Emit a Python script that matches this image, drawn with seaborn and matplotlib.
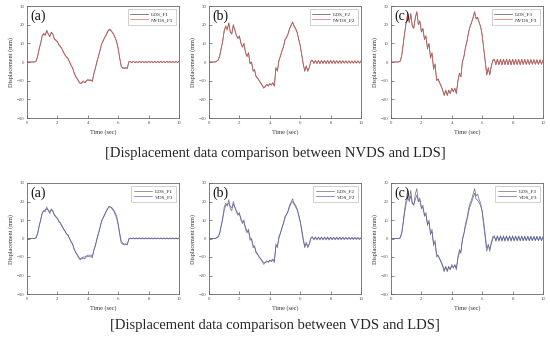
import matplotlib
matplotlib.use("Agg")
import matplotlib.pyplot as plt
import seaborn as sns
import numpy as np
import pandas as pd

sns.set_theme(style="ticks")
plt.rcParams['font.family'] = ['Liberation Serif', 'DejaVu Serif']

# sampling grid (sec)
TIME = np.round(np.arange(0, 10.05, 0.1), 1)

# displacement (mm) at 0.1 s steps
LDS_F1 = [0, 0, 0, 0, 0, 0, 0.5, 3, 7, 10, 14, 15, 14.5, 17, 15, 13.5, 16, 15, 12.5, 11.5,
          11, 9, 8.5, 7, 5, 4, 2.5, 2, 0, -2, -3, -6, -7.5, -9, -10.5, -11.5, -11, -10.5, -11, -10,
          -9.5, -10, -9.5, -10.5, -6, -3.5, 0, 3, 6, 9.5, 11, 13, 14.5, 16, 17.5, 17, 16, 15, 13, 11,
          7, 2, -2.5, -3, -3.5, -3, -3.5, 0, 0.3, -0.3, 0.3, -0.3, 0.3, -0.3, 0.3, -0.3, 0.3, -0.3, 0.3,
          -0.3, 0.3, -0.3, 0.3, -0.3, 0.3, -0.3, 0.3, -0.3, 0.3, -0.3, 0.3, -0.3, 0.3, -0.3, 0.3, -0.3,
          0.3, -0.3, 0.3, -0.3, 0.3]
NVDS_F1 = [0, 0, 0, 0, 0, 0, 0.3, 3.2, 7, 10.5, 14, 15.5, 14, 16.5, 15, 14, 15.5, 15, 12, 12,
           10.5, 9.5, 8, 7, 5.5, 3.5, 3, 1.5, 0, -1.5, -3.5, -5.5, -8, -9, -10, -11.5, -11.5, -10, -11, -10.5,
           -9.5, -9.5, -10, -10, -6.5, -3, 0.5, 3, 6.5, 9, 11.5, 13, 14, 16.5, 17, 17.5, 16, 14.5, 13, 10.5,
           7.5, 2, -2, -3.5, -3, -3.5, -3, 0.3, 0, -0.2, 0.4, -0.3, 0.2, -0.4, 0.3, -0.2, 0.4, -0.3, 0.2,
           -0.3, 0.4, -0.2, 0.3, -0.4, 0.2, -0.3, 0.3, -0.2, 0.4, -0.3, 0.2, -0.3, 0.3, -0.2, 0.3, -0.3,
           0.2, -0.3, 0.3, -0.2, 0.3]
VDS_F1 = [0, 0, 0, 0, 0, 0, 0.3, 2.5, 6.5, 10, 13.5, 15, 15.5, 16, 15.5, 14.5, 15.5, 14.5, 13, 12,
          10.5, 9.5, 8, 6.5, 5.5, 4, 2.5, 1.5, 0, -1.5, -3, -5.5, -7.5, -8.5, -10, -11, -10.5, -10, -10, -9.5,
          -9, -9, -9, -9.5, -6.5, -4, -0.5, 2.5, 5.5, 9, 11, 12.5, 14.5, 16, 17, 17, 16.5, 15.5, 14, 12,
          8, 3, -1.5, -2.5, -3, -3, -3, -0.5, 0.2, 0, 0.2, 0, 0.2, 0, 0.2, 0, 0.2, 0, 0.2,
          0, 0.2, 0, 0.2, 0, 0.2, 0, 0.2, 0, 0.2, 0, 0.2, 0, 0.2, 0, 0.2, 0,
          0.2, 0, 0.2, 0, 0.2]

LDS_F2 = [0, 0, 0, 0, 0, 0.5, 1, 3, 7, 11, 17, 19, 17.5, 21, 16, 15, 20, 17, 14.5, 12.5,
          14, 10, 8, 10, 5, 3, 5, -1, 0, -5, -4, -8, -8.5, -10, -11, -12.5, -14, -13, -12, -13,
          -11.5, -12.5, -11, -13, -3, -5, 1, 3, 6, 8, 12, 13, 15, 18, 19.5, 21.5, 19, 18, 16, 12,
          9, 4, -1, -5, -2, -5, -3, 0.5, 1, -0.8, 0.8, -0.8, 0.8, -0.8, 0.8, -0.8, 0.8, -0.8, 0.8,
          -0.8, 0.8, -0.7, 0.7, -0.7, 0.7, -0.7, 0.7, -0.7, 0.7, -0.6, 0.6, -0.6, 0.6, -0.6, 0.6, -0.6,
          0.6, -0.6, 0.6, -0.6, 0.5]
NVDS_F2 = [0, 0, 0, 0, 0, 0.3, 1, 3.5, 7.5, 11, 16.5, 19.5, 17, 20.5, 16.5, 15, 19.5, 17.5, 14, 13,
           13.5, 10.5, 8, 9.5, 5.5, 3, 4.5, -0.5, -0.5, -4.5, -4.5, -7.5, -9, -10, -11.5, -12.5, -13.5, -13.5, -12, -12.5,
           -12, -12, -11.5, -12.5, -3.5, -4.5, 0.5, 3.5, 6, 8.5, 11.5, 13.5, 15, 17.5, 20, 21, 19.5, 17.5, 15.5, 12.5,
           8.5, 4, -1.5, -4.5, -2.5, -4.5, -3, 0.3, 0.8, -0.7, 0.9, -0.8, 0.7, -0.9, 0.8, -0.7, 0.9, -0.8, 0.7,
           -0.8, 0.9, -0.7, 0.8, -0.8, 0.7, -0.8, 0.8, -0.7, 0.7, -0.6, 0.7, -0.6, 0.6, -0.7, 0.6, -0.6,
           0.7, -0.6, 0.6, -0.5, 0.5]
VDS_F2 = [0, 0, 0, 0, 0, 0.3, 0.8, 2.5, 6.5, 10.5, 15, 18, 18.5, 19, 17.5, 16.5, 18.5, 17, 15, 13.5,
          13, 11, 9, 9, 6, 4, 4, 0.5, -0.5, -3.5, -4.5, -7, -8.5, -10, -11, -12, -13, -13, -12.5, -12.5,
          -12, -12, -12, -12, -4.5, -4, 0, 3, 5.5, 8.5, 11, 13, 14.5, 17, 19, 20, 18.5, 17, 15.5, 13,
          9.5, 5, 0, -4, -3, -4, -3, 0, 0.5, -0.3, 0.5, -0.3, 0.5, -0.3, 0.5, -0.3, 0.5, -0.3, 0.5,
          -0.3, 0.5, -0.3, 0.5, -0.3, 0.5, -0.3, 0.5, -0.3, 0.5, -0.3, 0.5, -0.3, 0.5, -0.3, 0.5, -0.3,
          0.5, -0.3, 0.5, -0.3, 0.3]

LDS_F3 = [0, 0, 0, 0, 0, 0, 0.5, 3, 9, 16, 21, 26, 21, 26, 19, 18, 24, 27, 20, 22,
          16, 18, 12, 14, 7, 10, 2, 5, -4, -1, -10, -9, -11, -13, -15, -18, -15, -18, -15, -17,
          -14, -16, -14, -17, -10, -6, -8, 0, 3, 8, 11, 16, 19, 21, 24, 27, 23, 24, 21, 19,
          14, 7, 0, -7, -3, -7, -2, 1, 1.5, -1.5, 1.5, -1.5, 1.5, -1.5, 1.5, -1.5, 1.5, -1.5, 1.5,
          -1.5, 1.5, -1.4, 1.4, -1.4, 1.4, -1.4, 1.4, -1.3, 1.3, -1.3, 1.3, -1.3, 1.3, -1.2, 1.2, -1.2,
          1.2, -1.2, 1.2, -1.2, 1]
NVDS_F3 = [0, 0, 0, 0, 0, 0, 0.3, 3.5, 9.5, 15.5, 21.5, 25.5, 21.5, 25.5, 19.5, 18.5, 23.5, 26.5, 20.5, 21.5,
           16.5, 17.5, 12.5, 13.5, 7.5, 9.5, 2.5, 4.5, -3.5, -1.5, -9.5, -9.5, -11.5, -12.5, -15.5, -17.5, -15.5, -17.5, -15.5, -16.5,
           -14.5, -15.5, -14.5, -16.5, -10.5, -6.5, -7.5, 0.5, 3, 7.5, 11.5, 15.5, 19, 21.5, 23.5, 26.5, 23.5, 23.5, 21.5, 18.5,
           14.5, 7.5, 0.5, -6.5, -3.5, -6.5, -2.5, 0.5, 1.3, -1.3, 1.6, -1.4, 1.3, -1.6, 1.4, -1.3, 1.6, -1.4, 1.3,
           -1.6, 1.4, -1.3, 1.5, -1.3, 1.4, -1.5, 1.3, -1.2, 1.4, -1.3, 1.2, -1.4, 1.3, -1.1, 1.3, -1.2,
           1.1, -1.3, 1.2, -1.1, 1]
VDS_F3 = [0, 0, 0, 0, 0, 0, 0.3, 2.5, 8, 14, 19, 22, 20, 23, 19, 18.5, 21, 23.5, 20, 20.5,
          17, 16.5, 13, 12.5, 8, 8.5, 3, 3.5, -2.5, -2.5, -8.5, -9.5, -11, -12.5, -14.5, -17, -15.5, -17, -15.5, -16.5,
          -15, -15.5, -14.5, -16, -11, -7.5, -6.5, -1, 2.5, 6.5, 10, 14, 17.5, 19.5, 22, 24.5, 21.5, 20.5, 19.5, 17.5,
          15, 9, 2, -5, -4, -5.5, -3, 0, 1, -1, 1, -1, 1, -1, 1, -1, 1, -1, 1,
          -1, 1, -1, 1, -1, 1, -1, 1, -1, 1, -1, 1, -1, 1, -1, 1, -1,
          1, -1, 1, -1, 0.8]

PANEL_TAGS = ["(a)", "(b)", "(c)"]
CASES = ["F1", "F2", "F3"]
LDS = [LDS_F1, LDS_F2, LDS_F3]
NVDS = [NVDS_F1, NVDS_F2, NVDS_F3]
VDS = [VDS_F1, VDS_F2, VDS_F3]
CAPTIONS = ["[Displacement data comparison between NVDS and LDS]",
            "[Displacement data comparison between VDS and LDS]"]

fig = plt.figure(figsize=(5.5, 3.41), dpi=100)
fig.patch.set_facecolor("white")

lefts = [27 / 550, 209 / 550, 391 / 550]
width = 152 / 550
rows = [
    dict(bottom=1 - 118 / 341, height=112 / 341, other=NVDS, name="NVDS",
         lds_color="#5a5a5a", other_color="#e05a5a"),
    dict(bottom=1 - 294 / 341, height=111 / 341, other=VDS, name="VDS",
         lds_color="#7a7a7a", other_color="#5558b0"),
]

for r, row in enumerate(rows):
    for i in range(3):
        ax = fig.add_axes([lefts[i], row["bottom"], width, row["height"]])
        df = pd.DataFrame({"t": TIME, "lds": LDS[i], "other": row["other"][i]})
        sns.lineplot(data=df, x="t", y="lds", ax=ax, color=row["lds_color"], lw=0.55,
                     label=f"LDS_{CASES[i]}")
        sns.lineplot(data=df, x="t", y="other", ax=ax, color=row["other_color"], lw=0.55,
                     alpha=0.85, label=f"{row['name']}_{CASES[i]}")
        ax.set_xlim(0, 10)
        ax.set_ylim(-30, 30)
        ax.set_xticks([0, 2, 4, 6, 8, 10])
        ax.set_yticks([-30, -20, -10, 0, 10, 20, 30])
        ax.tick_params(direction="in", length=2, width=0.5, labelsize=3.5, pad=2,
                       colors="#555555")
        for s in ax.spines.values():
            s.set_linewidth(0.6)
            s.set_color("#666666")
        ax.set_xlabel("Time (sec)", fontsize=4.5, labelpad=3, color="#333333")
        ax.set_ylabel("Displacement (mm)", fontsize=4.5, labelpad=2, color="#333333")
        ax.text(0.02, 0.97, PANEL_TAGS[i], transform=ax.transAxes, fontsize=10,
                ha="left", va="top", color="#111111")
        leg = ax.legend(loc="upper right", fontsize=3.8, frameon=True, fancybox=False,
                        handlelength=3.4, borderpad=0.5, labelspacing=0.2,
                        handletextpad=0.5, borderaxespad=0.6)
        leg.get_frame().set_linewidth(0.4)
        leg.get_frame().set_edgecolor("#999999")

fig.text(0.5, 1 - 153 / 341, CAPTIONS[0], ha="center", va="center", fontsize=10.5)
fig.text(0.5, 1 - 326 / 341, CAPTIONS[1], ha="center", va="center", fontsize=10.5)

fig.savefig("out.png", dpi=100, facecolor="white")
